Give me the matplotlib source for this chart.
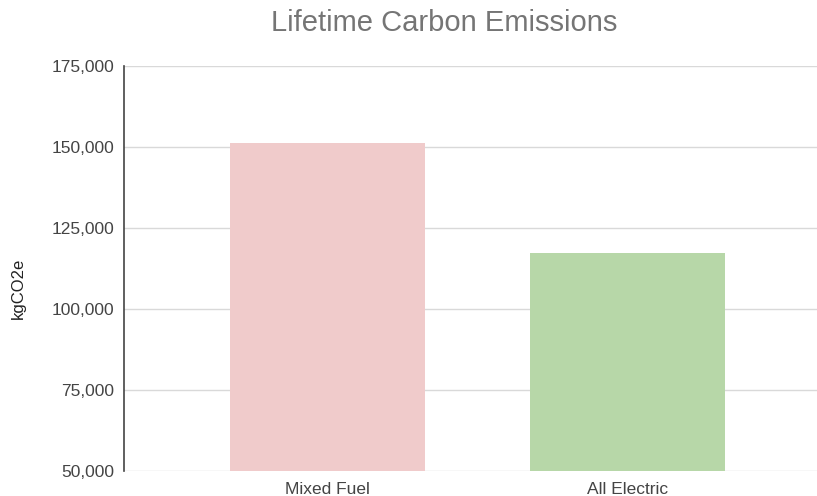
import matplotlib
matplotlib.use("Agg")
import matplotlib.pyplot as plt
from matplotlib.ticker import FuncFormatter

categories = ["Mixed Fuel", "All Electric"]
emissions = [151300, 117200]
bar_colors = ["#f0cbcb", "#b7d7a8"]
y_ticks = [50000, 75000, 100000, 125000, 150000, 175000]

plt.rcParams["font.family"] = ["Liberation Sans", "DejaVu Sans"]

fig = plt.figure(figsize=(8.17, 4.96), dpi=100)
ax = fig.add_axes([124 / 817, 25 / 496, 693 / 817, 405 / 496])

x = range(len(categories))
ax.bar(x, emissions, width=0.65, color=bar_colors, zorder=3)

ax.set_ylim(50000, 175000)
ax.set_xlim(-0.678, 1.632)
ax.set_yticks(y_ticks)
ax.yaxis.set_major_formatter(FuncFormatter(lambda v, _: f"{int(v):,}"))
ax.set_xticks(list(x))
ax.set_xticklabels(categories)

ax.grid(axis="y", color="#d9d9d9", linewidth=1, zorder=0)
for side in ("top", "right", "bottom"):
    ax.spines[side].set_visible(False)
ax.spines["left"].set_color("#444444")
ax.spines["left"].set_linewidth(1.2)
ax.tick_params(axis="both", length=0, labelsize=12.5, colors="#444444", pad=7)
ax.tick_params(axis="x", pad=8)

ax.set_ylabel("kgCO2e", fontsize=12, color="#222222")
ax.yaxis.set_label_coords(-0.142, 0.45)

fig.text(444 / 817, 1 - 23 / 496, "Lifetime Carbon Emissions", ha="center",
         va="center", fontsize=21, color="#757575")

fig.savefig("out.png", dpi=100)
